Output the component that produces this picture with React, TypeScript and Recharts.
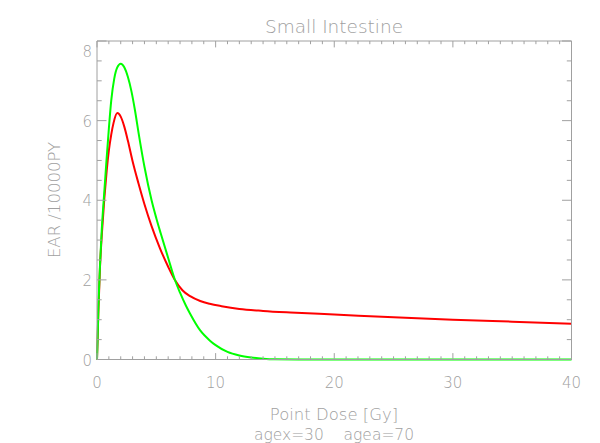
import { LineChart, Line, XAxis, YAxis } from 'recharts';

// dose (Gy) and EAR values
const redDose = [0, 0.05, 0.11, 0.25, 0.42, 0.62, 0.82, 1.0, 1.2, 1.4, 1.71, 2.0, 2.3, 2.6, 3.0, 3.5, 4.0, 4.6, 5.3, 6.0, 6.58, 7.2, 7.85, 8.7, 9.5, 10.5, 12, 14, 16.3, 20, 25, 30, 35, 40];
const redEar = [0, 0.5, 1.15, 2.3, 3.2, 4.05, 4.75, 5.25, 5.65, 5.95, 6.19, 6.1, 5.85, 5.5, 4.98, 4.42, 3.9, 3.35, 2.8, 2.33, 1.99, 1.74, 1.59, 1.47, 1.4, 1.34, 1.27, 1.22, 1.18, 1.13, 1.06, 1.0, 0.95, 0.9];

const greenDose = [0, 0.05, 0.11, 0.25, 0.4, 0.6, 0.8, 1.0, 1.2, 1.45, 1.7, 2.0, 2.3, 2.6, 2.9, 3.2, 3.5, 4.0, 4.6, 5.0, 5.37, 6.0, 6.58, 7.0, 7.5, 7.85, 8.7, 9.5, 10, 11, 12, 13, 14, 15, 17, 20, 25, 30, 35, 40];
const greenEar = [0, 0.5, 1.2, 2.35, 3.25, 4.15, 5.0, 5.8, 6.5, 7.05, 7.33, 7.43, 7.34, 7.1, 6.74, 6.26, 5.7, 4.84, 4.0, 3.55, 3.17, 2.55, 1.99, 1.68, 1.35, 1.15, 0.73, 0.48, 0.36, 0.19, 0.1, 0.05, 0.02, 0.005, 0, 0, 0, 0, 0, 0];

const xTicks = [0, 1, 2, 3, 4, 5, 6, 7, 8, 9, 10, 11, 12, 13, 14, 15, 16, 17, 18, 19, 20, 21, 22, 23, 24, 25, 26, 27, 28, 29, 30, 31, 32, 33, 34, 35, 36, 37, 38, 39, 40];
const yTicks = [0, 0.5, 1, 1.5, 2, 2.5, 3, 3.5, 4, 4.5, 5, 5.5, 6, 6.5, 7, 7.5, 8];

const redData = redDose.map((d, i) => ({ dose: d, ear: redEar[i] }));
const greenData = greenDose.map((d, i) => ({ dose: d, ear: greenEar[i] }));

const axisColor = '#a0a0a0';
const textColor = '#a0a0a0';
const font = '"DejaVu Sans", sans-serif';

const BottomTick = (p: any) => {
  const v = p.payload.value;
  const major = v % 10 === 0;
  return (
    <g>
      <line x1={p.x} x2={p.x} y1={p.y} y2={p.y - (major ? 6.4 : 3.2)} stroke={axisColor} />
      {major && (
        <text x={p.x} y={p.y + 28} textAnchor="middle" fill={textColor} fontSize={15} fontWeight={300} fontFamily={font}>
          {v}
        </text>
      )}
    </g>
  );
};

const TopTick = (p: any) => {
  const major = p.payload.value % 10 === 0;
  return (
    <g>
      <line x1={p.x} x2={p.x} y1={p.y} y2={p.y + (major ? 6.4 : 3.2)} stroke={axisColor} />
    </g>
  );
};

const LeftTick = (p: any) => {
  const v = p.payload.value;
  const major = v % 2 === 0;
  return (
    <g>
      <line x1={p.x} x2={p.x + (major ? 9.5 : 4.7)} y1={p.y} y2={p.y} stroke={axisColor} />
      {major && (
        <text x={p.x - 5} y={p.y + (v === 8 ? 11 : 1)} textAnchor="end" dominantBaseline="central" fill={textColor} fontSize={15} fontWeight={300} fontFamily={font}>
          {v}
        </text>
      )}
    </g>
  );
};

const RightTick = (p: any) => {
  const major = p.payload.value % 2 === 0;
  return (
    <g>
      <line x1={p.x} x2={p.x - (major ? 9.5 : 4.7)} y1={p.y} y2={p.y} stroke={axisColor} />
    </g>
  );
};

export default function App() {
  return (
    <div style={{ position: 'absolute', left: 0, top: 0, width: 600, height: 443, background: '#fff' }}>
      <LineChart
        width={600}
        height={443}
        margin={{ top: 31, right: 18.5, bottom: 53.5, left: 57 }}
      >
        <XAxis xAxisId="b" dataKey="dose" type="number" domain={[0, 40]} ticks={xTicks} interval={0}
          height={30} tickSize={0} tickMargin={0} tickLine={false} axisLine={{ stroke: axisColor }} tick={<BottomTick />} allowDuplicatedCategory={false} />
        <XAxis xAxisId="t" orientation="top" dataKey="dose" type="number" domain={[0, 40]} ticks={xTicks} interval={0}
          height={10} tickSize={0} tickMargin={0} tickLine={false} axisLine={{ stroke: axisColor }} tick={<TopTick />} allowDuplicatedCategory={false} />
        <YAxis yAxisId="l" type="number" domain={[0, 8]} ticks={yTicks} interval={0}
          width={40} tickSize={0} tickMargin={0} tickLine={false} axisLine={{ stroke: axisColor }} tick={<LeftTick />} />
        <YAxis yAxisId="r" orientation="right" type="number" domain={[0, 8]} ticks={yTicks} interval={0}
          width={10} tickSize={0} tickMargin={0} tickLine={false} axisLine={{ stroke: axisColor }} tick={<RightTick />} />
        <Line xAxisId="t" yAxisId="r" data={greenData} dataKey="ear" stroke="none" dot={false} activeDot={false} isAnimationActive={false} />
        <Line xAxisId="b" yAxisId="l" data={redData} dataKey="ear" type="monotone" stroke="#ff0000" strokeWidth={2} dot={false} isAnimationActive={false} />
        <Line xAxisId="b" yAxisId="l" data={greenData} dataKey="ear" type="monotone" stroke="#00ff00" strokeWidth={2} dot={false} isAnimationActive={false} />
      </LineChart>
      <svg width={600} height={443} style={{ position: 'absolute', left: 0, top: 0, pointerEvents: 'none' }}>
        <text x={334} y={33} textAnchor="middle" fill={textColor} fontSize={18.5} fontWeight={300} fontFamily={font}>Small Intestine</text>
        <text x={334} y={420} textAnchor="middle" fill={textColor} fontSize={16.5} fontWeight={300} fontFamily={font}>Point Dose [Gy]</text>
        <text x={334} y={440} textAnchor="middle" fill={textColor} fontSize={15.5} fontWeight={300} fontFamily={font} style={{ whiteSpace: 'pre' }}>agex=30    agea=70</text>
        <text x={54} y={200} transform="rotate(-90 54 200)" textAnchor="middle" dominantBaseline="central" fill={textColor} fontSize={16.5} fontWeight={300} fontFamily={font}>EAR /10000PY</text>
      </svg>
    </div>
  );
}
